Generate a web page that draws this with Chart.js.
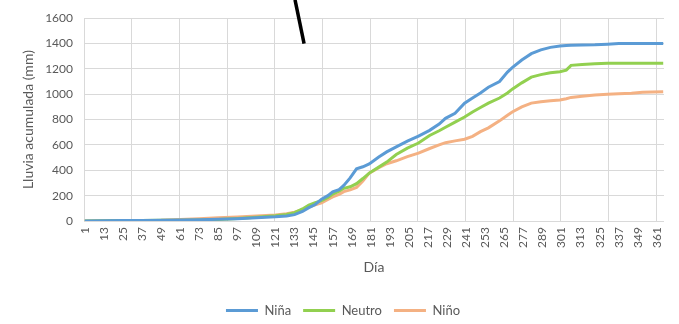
<!DOCTYPE html>
<html>
<head>
<meta charset="utf-8">
<script src="https://cdn.jsdelivr.net/npm/chart.js@4.4.1/dist/chart.umd.min.js"></script>
<style>
  html, body { margin: 0; padding: 0; background: #fff; }
</style>
</head>
<body>
<canvas id="lluviaChart" width="679" height="324"></canvas>
<script>
// Día del año en que se leyó cada valor
const dias = [1, 13, 25, 37, 49, 61, 73, 85, 97, 109, 121, 128, 133, 138, 142, 146, 150, 154, 157, 161,
  164, 168, 172, 176, 180, 186, 191, 197, 204, 211, 218, 224, 228, 234, 240, 245, 250, 255, 262, 267,
  270, 276, 282, 288, 294, 300, 304, 307, 314, 322, 330, 337, 345, 352, 358, 365];

// Lluvia acumulada (mm)
const nina = [0, 1, 3, 4, 5, 8, 10, 13, 18, 25, 33, 40, 50, 75, 105, 130, 172, 200, 230, 248,
  280, 340, 412, 428, 450, 505, 545, 585, 630, 670, 715, 765, 810, 850, 930, 970, 1010, 1055, 1100, 1175,
  1210, 1270, 1320, 1350, 1370, 1380, 1385, 1386, 1388, 1390, 1395, 1400, 1400, 1400, 1400, 1400];
const neutro = [0, 2, 4, 4, 5, 6, 8, 12, 20, 30, 42, 52, 66, 95, 125, 145, 160, 185, 212, 236,
  258, 270, 295, 335, 378, 425, 465, 525, 575, 615, 675, 712, 740, 780, 820, 860, 895, 930, 970, 1010,
  1040, 1090, 1135, 1155, 1170, 1178, 1190, 1228, 1235, 1240, 1244, 1245, 1245, 1245, 1245, 1245];
const nino = [0, 2, 3, 4, 6, 12, 18, 25, 32, 40, 48, 58, 70, 90, 110, 128, 144, 170, 190, 210,
  232, 245, 265, 315, 378, 420, 452, 475, 508, 535, 572, 600, 618, 632, 645, 668, 705, 735, 790, 835,
  860, 900, 930, 940, 948, 955, 965, 975, 985, 995, 1000, 1003, 1008, 1015, 1018, 1020];

// Etiquetas del eje X y posiciones de las líneas verticales de la cuadrícula
const etiquetasDia = [1, 13, 25, 37, 49, 61, 73, 85, 97, 109, 121, 133, 145, 157, 169, 181, 193, 205,
  217, 229, 241, 253, 265, 277, 289, 301, 313, 325, 337, 349, 361];
const lineasDia = [0.5, 30.5, 60.5, 90.5, 120.5, 150.5, 180.5, 210.5, 240.5, 270.5, 300.5, 330.5, 360.5];

// Trazo negro que aparece sobre el gráfico
const trazoNegro = [{ x: 133.3, y: 1745 }, { x: 139, y: 1400 }];

const serie = vals => dias.map((d, i) => ({ x: d, y: vals[i] }));
const gris = '#595959';
const fuente = 'Lato, "Open Sans", sans-serif';

// la leyenda del original queda un poco a la derecha del centro
const desplazaLeyenda = {
  id: 'desplazaLeyenda',
  afterLayout(chart) {
    chart.legend.left += 11;
    chart.legend.right += 11;
  }
};

new Chart(document.getElementById('lluviaChart'), {
  type: 'line',
  data: {
    datasets: [
      { label: 'Niña', data: serie(nina), borderColor: '#5B9BD5', backgroundColor: '#5B9BD5' },
      { label: 'Neutro', data: serie(neutro), borderColor: '#92D050', backgroundColor: '#92D050' },
      { label: 'Niño', data: serie(nino), borderColor: '#F4B183', backgroundColor: '#F4B183' },
      { label: 'trazo', data: trazoNegro, borderColor: '#000', borderWidth: 3.5, clip: false }
    ]
  },
  plugins: [desplazaLeyenda],
  options: {
    responsive: false,
    animation: false,
    devicePixelRatio: 1,
    elements: {
      line: { borderWidth: 3, tension: 0 },
      point: { radius: 0, hoverRadius: 0 }
    },
    layout: { padding: { left: 0, right: 15, top: 18, bottom: -3 } },
    scales: {
      x: {
        type: 'linear',
        min: 0.5,
        max: 365.5,
        afterBuildTicks: s => {
          s.ticks = lineasDia.concat(etiquetasDia).sort((a, b) => a - b).map(v => ({ value: v }));
        },
        afterFit: s => { s.height = 71; },
        ticks: {
          autoSkip: false,
          minRotation: 90,
          maxRotation: 90,
          padding: 6,
          color: gris,
          font: { family: fuente, size: 12 },
          callback: v => etiquetasDia.includes(v) ? String(v) : ''
        },
        grid: {
          drawTicks: false,
          color: c => (c.tick && lineasDia.includes(c.tick.value)) ? '#D9D9D9' : 'rgba(0,0,0,0)'
        },
        border: { display: false },
        title: {
          display: true,
          text: 'Día',
          color: gris,
          font: { family: fuente, size: 14 },
          padding: { top: 16, bottom: 16 }
        }
      },
      y: {
        min: 0,
        max: 1600,
        afterFit: s => { s.width = 84; },
        ticks: {
          stepSize: 200,
          padding: 11,
          color: gris,
          font: { family: fuente, size: 12 },
          callback: v => String(v)
        },
        grid: { drawTicks: false, color: '#D9D9D9' },
        border: { display: false },
        title: {
          display: true,
          text: 'Lluvia acumulada (mm)',
          color: gris,
          font: { family: fuente, size: 14 },
          padding: { top: 20, bottom: 4 }
        }
      }
    },
    plugins: {
      tooltip: { enabled: false },
      legend: {
        position: 'bottom',
        labels: {
          boxWidth: 32,
          boxHeight: 3,
          padding: 12,
          color: gris,
          font: { family: fuente, size: 13 },
          filter: item => item.datasetIndex < 3,
          generateLabels: chart => Chart.defaults.plugins.legend.labels.generateLabels(chart)
            .map(l => ({ ...l, fillStyle: l.strokeStyle, lineWidth: 0 }))
        }
      }
    }
  }
});
</script>
</body>
</html>
